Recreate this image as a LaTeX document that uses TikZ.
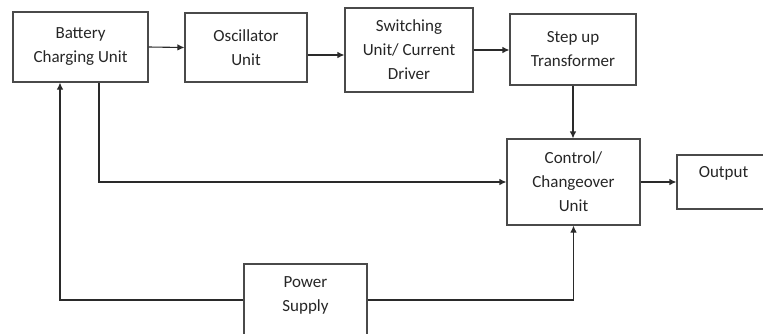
\documentclass[tikz,border=0pt]{standalone}
\usepackage{fontspec}
\setmainfont{Carlito}
\usetikzlibrary{arrows.meta}
\definecolor{boxline}{HTML}{4A4A4A}
\definecolor{wire}{HTML}{2A2A2A}
\definecolor{ink}{HTML}{262626}
\begin{document}
\begin{tikzpicture}[x=1pt,y=-1pt,
  blk/.style={draw=boxline, line width=1.1pt, rectangle, inner sep=0pt,
    align=center, text=ink, font=\fontsize{17}{24}\selectfont},
  lbl/.style={inner sep=0pt, align=center, text=ink, font=\fontsize{17}{24}\selectfont},
  arr/.style={draw=wire, line width=1.1pt, -{Latex[length=7pt,width=6.5pt]}},
  wireline/.style={draw=wire, line width=1.1pt}]
\useasboundingbox (0,0) rectangle (763,333);
\clip (0,0) rectangle (763,333);

% blocks
\node[blk, minimum width=135pt, minimum height=70pt] (bat) at (80.5,47) {Battery\\Charging Unit};
\node[blk, minimum width=122pt, minimum height=69pt] (osc) at (246,47.5) {Oscillator\\Unit};
\node[blk, minimum width=128pt, minimum height=84pt] (sw) at (409,50) {Switching\\Unit/ Current\\Driver};
\node[blk, minimum width=126pt, minimum height=71pt] (st) at (573,49.5) {Step up\\Transformer};
\node[blk, minimum width=133pt, minimum height=86pt] (ctrl) at (573.5,182) {Control/\\Changeover\\Unit};
\node[blk, minimum width=93pt, minimum height=54pt] (out) at (723.5,182) {};
\node[lbl] (outtext) at (723.5,173) {Output};
\node[blk, minimum width=123pt, minimum height=72pt] (ps) at (305.5,300) {};
\node[lbl] (pstext) at (305.5,295) {Power\\Supply};

% signal path
\draw[arr] (bat.east) -- (osc.west);
\draw[arr] ([yshift=-7.5pt]osc.east) -- ([yshift=-7.5pt]osc.east -| sw.west);
\draw[arr] (sw.east) -- (sw.east -| st.west);
\draw[arr] (st.south) -- (st.south |- ctrl.north);
\draw[arr] (ctrl.east) -- (out.west);

% charging unit feed to the changeover unit
\draw[arr] ([xshift=18.5pt]bat.south) |- (ctrl.west);

% power supply feeds
\draw[arr] (ps.west) -| ([xshift=-20.5pt]bat.south);
\draw[arr] (ps.east) -| (ctrl.south);
\end{tikzpicture}
\end{document}
